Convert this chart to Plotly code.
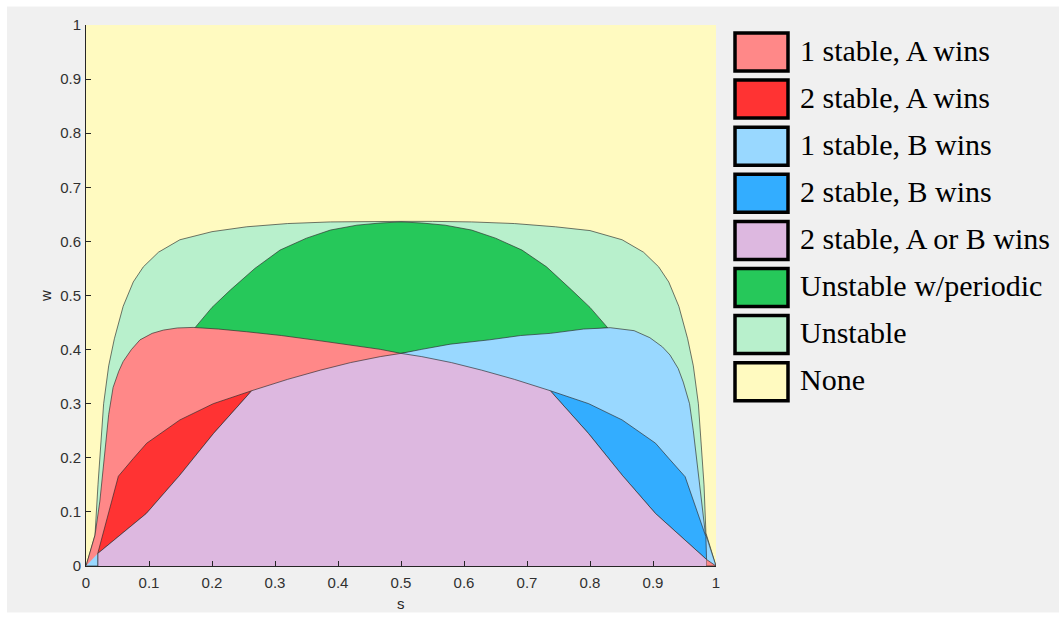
import plotly.graph_objects as go

# ---------------- data (s, w) ----------------
# outer boundary of the "Unstable" region (left to right)
outer_s = [0.0, 0.0143, 0.019, 0.023, 0.028, 0.036, 0.045, 0.059, 0.075, 0.091, 0.115, 0.149, 0.20,
           0.255, 0.32, 0.388, 0.45, 0.5, 0.55, 0.612, 0.68, 0.745, 0.80, 0.851, 0.885, 0.909,
           0.925, 0.941, 0.955, 0.964, 0.972, 0.977, 0.981, 0.984, 1.0]
outer_w = [0.0, 0.057, 0.15, 0.22, 0.30, 0.37, 0.42, 0.48, 0.525, 0.553, 0.58, 0.603, 0.618,
           0.627, 0.633, 0.636, 0.637, 0.637, 0.637, 0.636, 0.633, 0.627, 0.62, 0.603, 0.58, 0.553,
           0.525, 0.48, 0.42, 0.37, 0.30, 0.22, 0.15, 0.061, 0.0]

# upper arc of the "Unstable w/periodic" region
arc_s = [0.173, 0.20, 0.229, 0.268, 0.308, 0.35, 0.388, 0.43, 0.467, 0.5,
         0.533, 0.57, 0.612, 0.65, 0.692, 0.731, 0.771, 0.80, 0.828]
arc_w = [0.4405, 0.478, 0.510, 0.550, 0.584, 0.606, 0.621, 0.630, 0.634, 0.636,
         0.634, 0.630, 0.621, 0.606, 0.584, 0.553, 0.510, 0.478, 0.4405]

# upper boundary of "1 stable, A wins" (from the origin to the centre crossing)
pinktop_s = [0.0, 0.0143, 0.022, 0.030, 0.036, 0.043, 0.052, 0.059, 0.072, 0.0857, 0.105,
             0.1227, 0.145, 0.17, 0.21, 0.255, 0.31, 0.361, 0.42, 0.467, 0.5]
pinktop_w = [0.0, 0.057, 0.12, 0.214, 0.28, 0.33, 0.36, 0.378, 0.40, 0.418, 0.43,
             0.436, 0.44, 0.441, 0.438, 0.433, 0.426, 0.418, 0.408, 0.4005, 0.393]

# upper boundary of "1 stable, B wins" (from the centre crossing to s = 1)
bluetop_s = [0.5, 0.533, 0.578, 0.64, 0.69, 0.737, 0.79, 0.832, 0.87, 0.895, 0.915, 0.927,
             0.94, 0.948, 0.958, 0.964, 0.969, 0.975, 0.983, 1.0]
bluetop_w = [0.393, 0.4005, 0.41, 0.418, 0.426, 0.430, 0.438, 0.4405, 0.435, 0.422, 0.405, 0.39,
             0.365, 0.34, 0.30, 0.25, 0.20, 0.13, 0.061, 0.0]

# upper boundary of "2 stable, A or B wins"
lavleft_s = [0.0186, 0.0957, 0.149, 0.2024, 0.263]
lavleft_w = [0.023, 0.097, 0.168, 0.245, 0.324]
lavmid_s = [0.32, 0.372, 0.42, 0.467, 0.5, 0.533, 0.58, 0.628, 0.68]
lavmid_w = [0.345, 0.362, 0.376, 0.387, 0.393, 0.387, 0.376, 0.362, 0.345]
lavright_s = [0.737, 0.7976, 0.851, 0.904, 0.985]
lavright_w = [0.324, 0.245, 0.168, 0.097, 0.012]

# upper boundary of "2 stable, A wins"
redtop_s = [0.0186, 0.0514, 0.0753, 0.0964, 0.149, 0.202, 0.263]
redtop_w = [0.023, 0.166, 0.199, 0.227, 0.270, 0.300, 0.324]

# upper boundary of "2 stable, B wins"
dbluetop_s = [0.737, 0.798, 0.851, 0.904, 0.925, 0.951, 0.984, 0.985]
dbluetop_w = [0.324, 0.300, 0.270, 0.227, 0.199, 0.165, 0.054, 0.012]

# small corner pieces on the s axis
corner_left_s = [0.0, 0.0186, 0.0186]
corner_left_w = [0.0, 0.0, 0.023]
corner_right_s = [0.985, 1.0, 0.985]
corner_right_w = [0.0, 0.0, 0.012]

legend_labels = ["1 stable, A wins", "2 stable, A wins", "1 stable, B wins", "2 stable, B wins",
                 "2 stable, A or B wins", "Unstable w/periodic", "Unstable", "None"]
legend_colors = ["#FF8888", "#FF3333", "#99D8FF", "#33ADFF",
                 "#DDB8E0", "#26C85A", "#B8F0CC", "#FFFAC0"]
C = dict(zip(legend_labels, legend_colors))

tick_vals = [0, 0.1, 0.2, 0.3, 0.4, 0.5, 0.6, 0.7, 0.8, 0.9, 1]
tick_text = ["0", "0.1", "0.2", "0.3", "0.4", "0.5", "0.6", "0.7", "0.8", "0.9", "1"]

# ---------------- figure ----------------
W, H = 1059, 619
L, R, T, B = 86, 716, 25, 566   # plot area in pixels
EDGE = "rgba(40,40,40,0.8)"

fig = go.Figure()


def patch(xs, ys, color):
    fig.add_trace(go.Scatter(x=xs, y=ys, mode="lines", fill="toself", fillcolor=color,
                             line=dict(color=EDGE, width=0.8), hoverinfo="skip",
                             showlegend=False))


patch(outer_s, outer_w, C["Unstable"])
patch(arc_s + [0.5], arc_w + [0.393], C["Unstable w/periodic"])
patch(pinktop_s + [0.5], pinktop_w + [0.0], C["1 stable, A wins"])
patch([0.5] + bluetop_s, [0.0] + bluetop_w, C["1 stable, B wins"])
patch(redtop_s + lavleft_s[::-1], redtop_w + lavleft_w[::-1], C["2 stable, A wins"])
patch(dbluetop_s + lavright_s[::-1], dbluetop_w + lavright_w[::-1], C["2 stable, B wins"])
patch([lavleft_s[0]] + lavleft_s + lavmid_s + lavright_s + [lavright_s[-1]],
      [0.0] + lavleft_w + lavmid_w + lavright_w + [0.0], C["2 stable, A or B wins"])
patch(corner_left_s, corner_left_w, C["1 stable, B wins"])
patch(corner_right_s, corner_right_w, C["1 stable, A wins"])


def px2x(px):
    return (px - L) / (R - L)


def py2y(py):
    return (B - py) / (B - T)


shapes = []
annotations = []
box_top0, pitch, box_h = 31.5, 47.1, 41
for i, (lab, col) in enumerate(zip(legend_labels, legend_colors)):
    top = box_top0 + i * pitch
    shapes.append(dict(type="rect", xref="paper", yref="paper",
                       x0=px2x(735), x1=px2x(788), y0=py2y(top + box_h - 1.5), y1=py2y(top + 1.5),
                       fillcolor=col, line=dict(color="black", width=3.5), layer="above"))
    annotations.append(dict(text=lab, xref="paper", yref="paper", x=px2x(798),
                            y=py2y(top + box_h / 2 - 2), xanchor="left", yanchor="middle",
                            showarrow=False,
                            font=dict(family="Liberation Serif", size=30, color="black")))

# white frame around the grey figure background
shapes.append(dict(type="rect", xref="paper", yref="paper",
                   x0=px2x(3.5), x1=px2x(1080), y0=py2y(616), y1=py2y(3),
                   fillcolor="rgba(0,0,0,0)", line=dict(color="white", width=7), layer="above"))

annotations.append(dict(text="s", xref="paper", yref="paper", x=px2x(401), y=py2y(603),
                        xanchor="center", yanchor="middle", showarrow=False,
                        font=dict(family="Liberation Sans", size=15, color="#262626")))
annotations.append(dict(text="w", xref="paper", yref="paper", x=px2x(45), y=py2y(296),
                        xanchor="center", yanchor="middle", showarrow=False, textangle=-90,
                        font=dict(family="Liberation Sans", size=15, color="#262626")))

axis_common = dict(range=[0, 1], tickmode="array", tickvals=tick_vals, ticktext=tick_text,
                   ticks="inside", ticklen=5, tickwidth=1, tickcolor="#262626",
                   showline=True, linecolor="#262626", linewidth=1, mirror=False,
                   showgrid=False, zeroline=False, fixedrange=True,
                   tickfont=dict(family="Liberation Sans", size=15, color="#303030"))

fig.update_layout(
    width=W, height=H,
    margin=dict(l=L, r=W - R, t=T, b=H - B, pad=0),
    paper_bgcolor="#F0F0F0",
    plot_bgcolor=C["None"],
    xaxis=dict(**axis_common, ticklabelstandoff=3),
    yaxis=dict(**axis_common, ticklabelstandoff=1),
    shapes=shapes,
    annotations=annotations,
    showlegend=False,
)

fig.write_html("out.html", config={"displayModeBar": False},
               post_script="document.body.style.margin='0';document.body.style.overflow='hidden';")
